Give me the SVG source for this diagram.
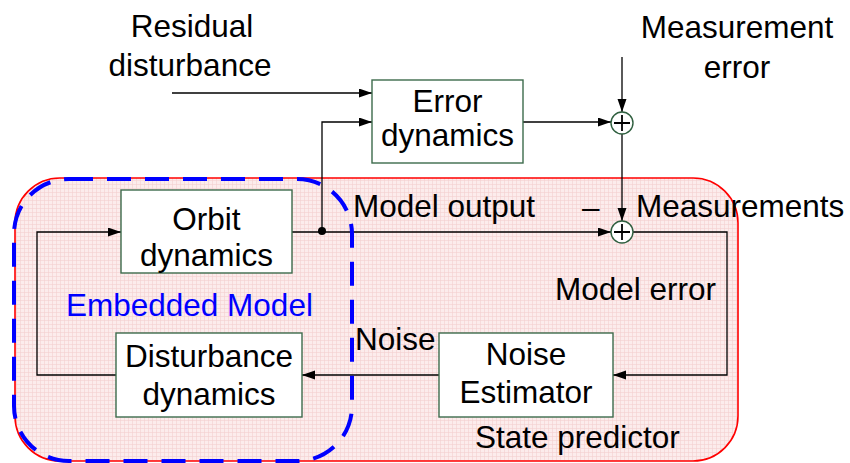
<svg xmlns="http://www.w3.org/2000/svg" width="850" height="463" viewBox="0 0 850 463">
<defs>
<pattern id="grid" width="4" height="4" patternUnits="userSpaceOnUse">
<rect width="4" height="4" fill="#fcecec"/>
<path d="M0,0.5 H4 M0.5,0 V4" stroke="#f3d0d0" stroke-width="0.6"/>
</pattern>
<marker id="arr" markerUnits="userSpaceOnUse" markerWidth="14" markerHeight="10" refX="13" refY="4.5" orient="auto">
<path d="M0,0 L13,4.5 L0,9 z" fill="#000"/>
</marker>
</defs>
<style>
text{font-family:"Liberation Sans",Arial,sans-serif;font-size:31.5px;fill:#000}
.c{text-anchor:middle}
.box{fill:#fff;stroke:#3d6b4c;stroke-width:1.4}
.ln{fill:none;stroke:#000;stroke-width:1.3}
.sum{fill:#fff;stroke:#2f5f3f;stroke-width:1.4}
.plus{stroke:#000;stroke-width:1.8}
</style>
<rect id="state-predictor" x="15" y="178" width="723" height="283" rx="45" fill="url(#grid)" stroke="#ff0000" stroke-width="1.6"/>
<g id="connectors">
<line class="ln" x1="172" y1="93" x2="372" y2="93" marker-end="url(#arr)"/>
<polyline class="ln" points="322,231 322,122 372,122" stroke="#555" marker-end="url(#arr)"/>
<line class="ln" x1="523" y1="122" x2="611" y2="122" marker-end="url(#arr)"/>
<line class="ln" x1="622" y1="57" x2="622" y2="112" marker-end="url(#arr)"/>
<line class="ln" x1="622" y1="134" x2="622" y2="221" marker-end="url(#arr)"/>
<line class="ln" x1="292" y1="232" x2="611" y2="232" marker-end="url(#arr)"/>
<polyline class="ln" points="633,232 727,232 727,375 613,375" marker-end="url(#arr)"/>
<line class="ln" x1="439" y1="375" x2="302" y2="375" marker-end="url(#arr)"/>
<polyline class="ln" points="116,375 37,375 37,232 121,232" marker-end="url(#arr)"/>
<circle cx="322" cy="231" r="4" fill="#000"/>
</g>
<g id="error-dynamics">
<rect class="box" x="372" y="80" width="151" height="83"/>
<text class="c" x="447.5" y="112">Error</text>
<text class="c" x="447.5" y="146">dynamics</text>
</g>
<g id="orbit-dynamics">
<rect class="box" x="121" y="190" width="171" height="83"/>
<text class="c" x="206.5" y="230">Orbit</text>
<text class="c" x="206.5" y="266">dynamics</text>
</g>
<g id="disturbance-dynamics">
<rect class="box" x="116" y="333" width="186" height="84"/>
<text class="c" x="209" y="367">Disturbance</text>
<text class="c" x="209" y="405">dynamics</text>
</g>
<g id="noise-estimator">
<rect class="box" x="439" y="333" width="174" height="84"/>
<text class="c" x="526" y="365">Noise</text>
<text class="c" x="526" y="403">Estimator</text>
</g>
<g id="sum-top">
<circle class="sum" cx="622" cy="123" r="11"/>
<path class="plus" d="M614,123 H630 M622,115 V131"/>
</g>
<g id="sum-bottom">
<circle class="sum" cx="622" cy="232" r="11"/>
<path class="plus" d="M614,232 H630 M622,224 V240"/>
</g>
<rect id="embedded-model" x="14" y="179" width="338" height="282" rx="55" fill="none" stroke="#0000ff" stroke-width="4" stroke-dasharray="24 14"/>
<g id="labels">
<text class="c" x="192" y="37">Residual</text>
<text class="c" x="190" y="76">disturbance</text>
<text class="c" x="737" y="38">Measurement</text>
<text class="c" x="737" y="78">error</text>
<text x="353" y="217">Model output</text>
<text x="582" y="218">–</text>
<text x="636" y="217">Measurements</text>
<text x="66" y="316" style="fill:#0000ff">Embedded Model</text>
<text x="555" y="300">Model error</text>
<text x="355" y="350">Noise</text>
<text x="475" y="448">State predictor</text>
</g>
</svg>
